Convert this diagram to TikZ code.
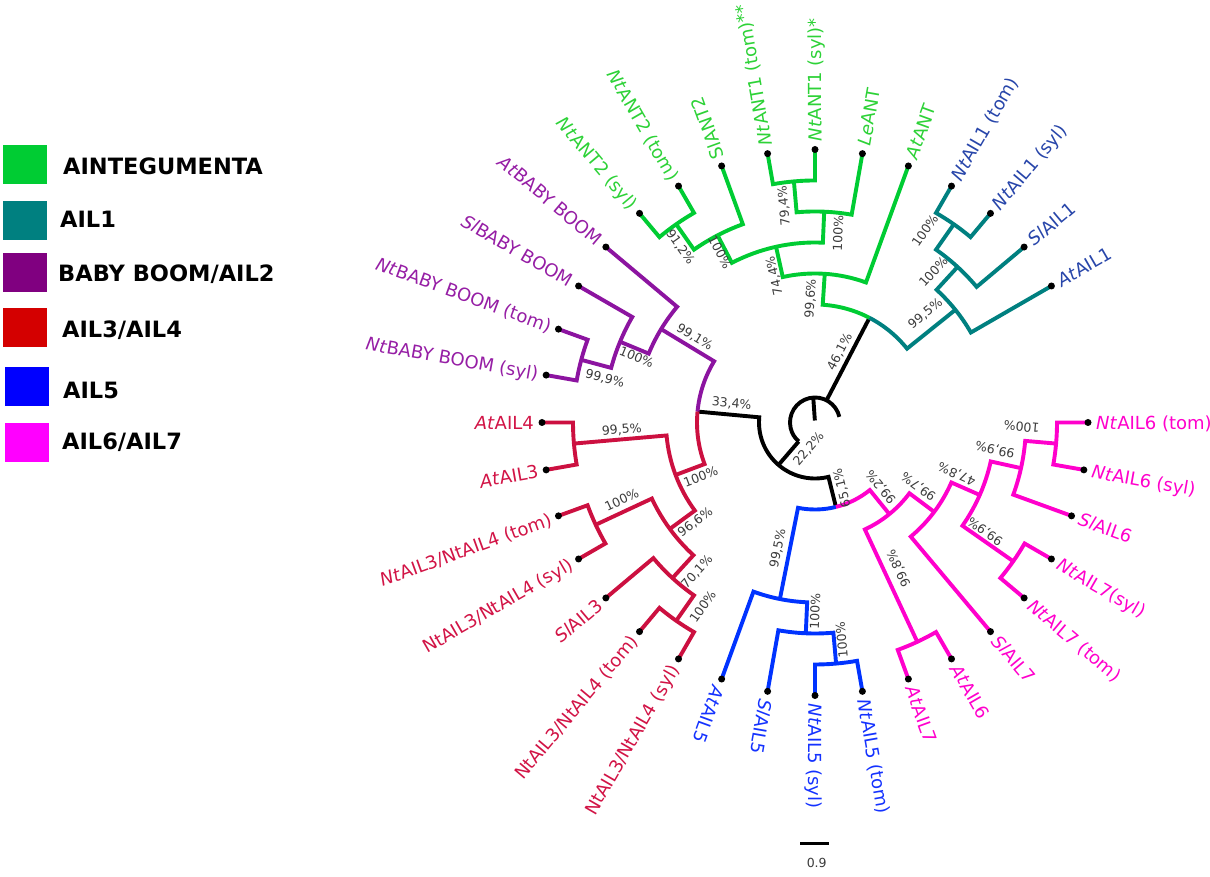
\documentclass[tikz,border=0pt]{standalone}
\usepackage{fontspec}
\setmainfont{DejaVu Sans}
\definecolor{cgreen}{RGB}{0,204,51}
\definecolor{cteal}{RGB}{0,128,128}
\definecolor{cpurple}{RGB}{140,20,160}
\definecolor{cred}{RGB}{204,16,64}
\definecolor{cblue}{RGB}{0,51,255}
\definecolor{cpink}{RGB}{255,0,204}
\definecolor{tgreen}{RGB}{45,210,55}
\definecolor{tteal}{RGB}{40,70,170}
\definecolor{tpurple}{RGB}{150,30,165}
\definecolor{tred}{RGB}{210,20,70}
\definecolor{tblue}{RGB}{20,50,255}
\definecolor{tpink}{RGB}{255,0,204}
\definecolor{lgreen}{RGB}{0,204,51}
\definecolor{lteal}{RGB}{0,128,128}
\definecolor{lpurple}{RGB}{128,0,128}
\definecolor{lred}{RGB}{212,0,0}
\definecolor{lblue}{RGB}{0,0,255}
\definecolor{lpink}{RGB}{255,0,255}
\definecolor{pgray}{RGB}{60,60,60}
\newcommand\unode[6]{\draw[br,#1] (#2:#3pt) -- (#2:#4pt) arc[start angle=#2,end angle=#5,radius=#4pt] -- (#5:#6pt);}
\newcommand\leafR[4]{\node[lab,text=#2,rotate=#1,anchor=west] (#3) at (#1:281pt) {#4};}
\newcommand\leafL[4]{\node[lab,text=#2,rotate=#1-180,anchor=east] (#3) at (#1:281pt) {#4};}
\newcommand\pct[5]{\node[pctlab,rotate=#4] (#1) at (#2,#3) {#5};}
\begin{document}
\begin{tikzpicture}[x=1pt,y=1pt,
  br/.style={line width=3.9pt},
  dot/.style={circle,fill=black,inner sep=0pt,minimum size=7pt},
  lab/.style={font=\fontsize{18}{20}\selectfont,inner sep=0pt,text height=13.1pt,text depth=0pt},
  pctlab/.style={font=\fontsize{12.5}{14}\selectfont,text=pgray,inner sep=0pt,text height=9.1pt,text depth=0pt},
  leg/.style={font=\bfseries\fontsize{22.5}{26}\selectfont,anchor=west,inner sep=0pt,text height=16.4pt,text depth=0pt},
  sq/.style={minimum width=44pt,minimum height=39pt,inner sep=0pt}]
\useasboundingbox (0,0) rectangle (1210,877);
\fill[white] (0,0) rectangle (1210,877);

% legend
\node[sq,fill=lgreen] (s1) at (24.5,712.5) {};
\node[sq,fill=lteal] (s2) at (24.5,656.5) {};
\node[sq,fill=lpurple] (s3) at (25,604.2) {};
\node[sq,fill=lred] (s4) at (25,549.2) {};
\node[sq,fill=lblue] (s5) at (26.5,490.7) {};
\node[sq,fill=lpink] (s6) at (26.5,434.2) {};
\node[leg] (k1) at (63,710.3) {AINTEGUMENTA};
\node[leg] (k2) at (60,657.7) {AIL1};
\node[leg] (k3) at (58,603.7) {BABY BOOM/AIL2};
\node[leg] (k4) at (62,547.7) {AIL3/AIL4};
\node[leg] (k5) at (63,487) {AIL5};
\node[leg] (k6) at (62,435.3) {AIL6/AIL7};

\begin{scope}[shift={(815,454.5)}]
% black backbone
\draw[br,black] (62.5:25pt) -- (62.5:118pt);
\draw[br,black] (13:25pt) arc[start angle=13,end angle=229.3,radius=25pt];
\draw[br,black] (94:25pt) -- (94:2pt);
\draw[br,black] (229.3:25pt) -- (229.3:56pt);
\draw[br,black] (174.69:118pt) -- (174.69:56pt) arc[start angle=174.69,end angle=283.91,radius=56pt] -- (283.91:87pt);
% H node (green / teal)
\draw[br,cgreen] (86.25:149pt) -- (86.25:118pt) arc[start angle=86.25,end angle=62.5,radius=118pt];
\draw[br,cteal] (62.5:118pt) arc[start angle=62.5,end angle=38.75,radius=118pt] -- (38.75:180pt);
% P node (purple / red)
\draw[br,cpurple] (148.75:180pt) -- (148.75:118pt) arc[start angle=148.75,end angle=174.69,radius=118pt];
\draw[br,cred] (174.69:118pt) arc[start angle=174.69,end angle=200.625,radius=118pt] -- (200.625:149pt);
% Q node (blue / pink)
\draw[br,cblue] (258.75:180pt) -- (258.75:87pt) arc[start angle=258.75,end angle=283.91,radius=87pt];
\draw[br,cpink] (283.91:87pt) arc[start angle=283.91,end angle=309.06,radius=87pt] -- (309.06:118pt);
% green clade
\unode{cgreen}{120}{273}{242}{130}{273}
\unode{cgreen}{110}{273}{211}{125}{242}
\unode{cgreen}{90}{273}{242}{100}{273}
\unode{cgreen}{80}{273}{211}{95}{242}
\unode{cgreen}{87.5}{211}{180}{117.5}{211}
\unode{cgreen}{70}{273}{149}{102.5}{180}
% teal clade
\unode{cteal}{50}{273}{242}{60}{273}
\unode{cteal}{40}{273}{211}{55}{242}
\unode{cteal}{30}{273}{180}{47.5}{211}
% purple clade
\unode{cpurple}{160}{273}{242}{170}{273}
\unode{cpurple}{150}{273}{211}{165}{242}
\unode{cpurple}{140}{273}{180}{157.5}{211}
% red clade
\unode{cred}{180}{273}{242}{190}{273}
\unode{cred}{200}{273}{242}{210}{273}
\unode{cred}{230}{273}{242}{240}{273}
\unode{cred}{220}{273}{211}{235}{242}
\unode{cred}{205}{242}{180}{227.5}{211}
\unode{cred}{185}{242}{149}{216.25}{180}
% blue clade
\unode{cblue}{270}{273}{242}{280}{273}
\unode{cblue}{260}{273}{211}{275}{242}
\unode{cblue}{250}{273}{180}{267.5}{211}
% pink clade
\unode{cpink}{350}{273}{242}{360}{273}
\unode{cpink}{340}{273}{211}{355}{242}
\unode{cpink}{320}{273}{242}{330}{273}
\unode{cpink}{325}{242}{180}{347.5}{211}
\unode{cpink}{310}{273}{149}{336.25}{180}
\unode{cpink}{290}{273}{242}{300}{273}
\unode{cpink}{295}{242}{118}{323.125}{149}
% leaf dots
\foreach \a in {30,40,...,360} \node[dot] (d\a) at (\a:273pt) {};
% leaf labels
\leafR{30}{tteal}{l30}{\textit{At}AIL1}
\leafR{40}{tteal}{l40}{\textit{Sl}AIL1}
\leafR{50}{tteal}{l50}{\textit{Nt}AIL1 (syl)}
\leafR{60}{tteal}{l60}{\textit{Nt}AIL1 (tom)}
\leafR{70}{tgreen}{l70}{\textit{At}ANT}
\leafR{80}{tgreen}{l80}{\textit{Le}ANT}
\leafR{90}{tgreen}{l90}{\textit{Nt}ANT1 (syl)*}
\leafR{100}{tgreen}{l100}{\textit{Nt}ANT1 (tom)**}
\leafR{110}{tgreen}{l110}{SlANT2}
\leafL{120}{tgreen}{l120}{\textit{Nt}ANT2 (tom)}
\leafL{130}{tgreen}{l130}{\textit{Nt}ANT2 (syl)}
\leafL{140}{tpurple}{l140}{\textit{At}BABY BOOM}
\leafL{150}{tpurple}{l150}{\textit{Sl}BABY BOOM}
\leafL{160}{tpurple}{l160}{\textit{Nt}BABY BOOM (tom)}
\leafL{170}{tpurple}{l170}{\textit{Nt}BABY BOOM (syl)}
\leafL{180}{tred}{l180}{\textit{At}AIL4}
\leafL{190}{tred}{l190}{\textit{At}AIL3}
\leafL{200}{tred}{l200}{\textit{Nt}AIL3/NtAIL4 (tom)}
\leafL{210}{tred}{l210}{NtAIL3/NtAIL4 (syl)}
\leafL{220}{tred}{l220}{\textit{Sl}AIL3}
\leafL{230}{tred}{l230}{NtAIL3/NtAIL4 (tom)}
\leafL{240}{tred}{l240}{NtAIL3/NtAIL4 (syl)}
\leafR{250}{tblue}{l250}{\textit{At}AIL5}
\leafR{260}{tblue}{l260}{\textit{Sl}AIL5}
\leafR{270}{tblue}{l270}{\textit{Nt}AIL5 (syl)}
\leafR{280}{tblue}{l280}{\textit{Nt}AIL5 (tom)}
\leafR{290}{tpink}{l290}{\textit{At}AIL7}
\leafR{300}{tpink}{l300}{\textit{At}AIL6}
\leafR{310}{tpink}{l310}{\textit{Sl}AIL7}
\leafR{320}{tpink}{l320}{\textit{Nt}AIL7 (tom)}
\leafR{330}{tpink}{l330}{\textit{Nt}AIL7(syl)}
\leafR{340}{tpink}{l340}{\textit{Sl}AIL6}
\leafR{350}{tpink}{l350}{\textit{Nt}AIL6 (syl)}
\leafR{360}{tpink}{l360}{\textit{Nt}AIL6 (tom)}
\end{scope}

% bootstrap values
\pct{pA}{680.7}{630.3}{-55}{91,2\%}
\pct{pB}{720}{624.5}{-62.5}{100\%}
\pct{pF}{774}{601}{102.5}{74,4\%}
\pct{pD}{783.5}{671}{95}{79,4\%}
\pct{pE}{838}{643.5}{87.5}{100\%}
\pct{pG}{810}{578.3}{86.25}{99,6\%}
\pct{pT1}{925}{646.3}{55}{100\%}
\pct{pT2}{933.3}{605.3}{47.5}{100\%}
\pct{pT3}{925}{563.7}{38.75}{99,5\%}
\pct{pH}{839.3}{525.3}{62.5}{46,1\%}
\pct{pP}{731.7}{474}{-5.3}{33,4\%}
\pct{pN}{808.3}{428.7}{49.3}{22,2\%}
\pct{pQ}{841.5}{389}{103.9}{65,1\%}
\pct{pU3}{695}{540.3}{-31.25}{99,1\%}
\pct{pU2}{636.7}{520.3}{-22.5}{100\%}
\pct{pU1}{605}{498.7}{-15}{99,9\%}
\pct{pR1}{621.7}{447.7}{5}{99,5\%}
\pct{pR7}{700.7}{400.3}{20.6}{100\%}
\pct{pR2}{621.7}{377}{25}{100\%}
\pct{pR6}{695}{355.3}{36.25}{96,6\%}
\pct{pR5}{696.7}{305.3}{47.5}{70,1\%}
\pct{pR4}{702.7}{270.3}{55}{100\%}
\pct{pB3}{777.3}{328.7}{78.75}{99,5\%}
\pct{pB2}{815}{265.3}{87.5}{100\%}
\pct{pB1}{841.7}{237}{95}{100\%}
\pct{pK7}{880.7}{389.7}{129}{99,2\%}
\pct{pK5}{918.3}{390.3}{143.1}{99,7\%}
\pct{pK4}{956.7}{402.7}{156.25}{47,8\%}
\pct{pK2}{995}{427}{167.5}{99,9\%}
\pct{pK1}{1021.7}{450.3}{175}{100\%}
\pct{pK3}{985}{345.3}{145}{99,9\%}
\pct{pK6}{898.3}{308.7}{115}{99,8\%}

% scale bar
\coordinate (sb1) at (800,33.7);
\coordinate (sb2) at (829,33.7);
\draw[line width=3pt,black] (sb1) -- (sb2);
\node[pctlab] (sbl) at (816.7,14) {0.9};
\end{tikzpicture}
\end{document}
